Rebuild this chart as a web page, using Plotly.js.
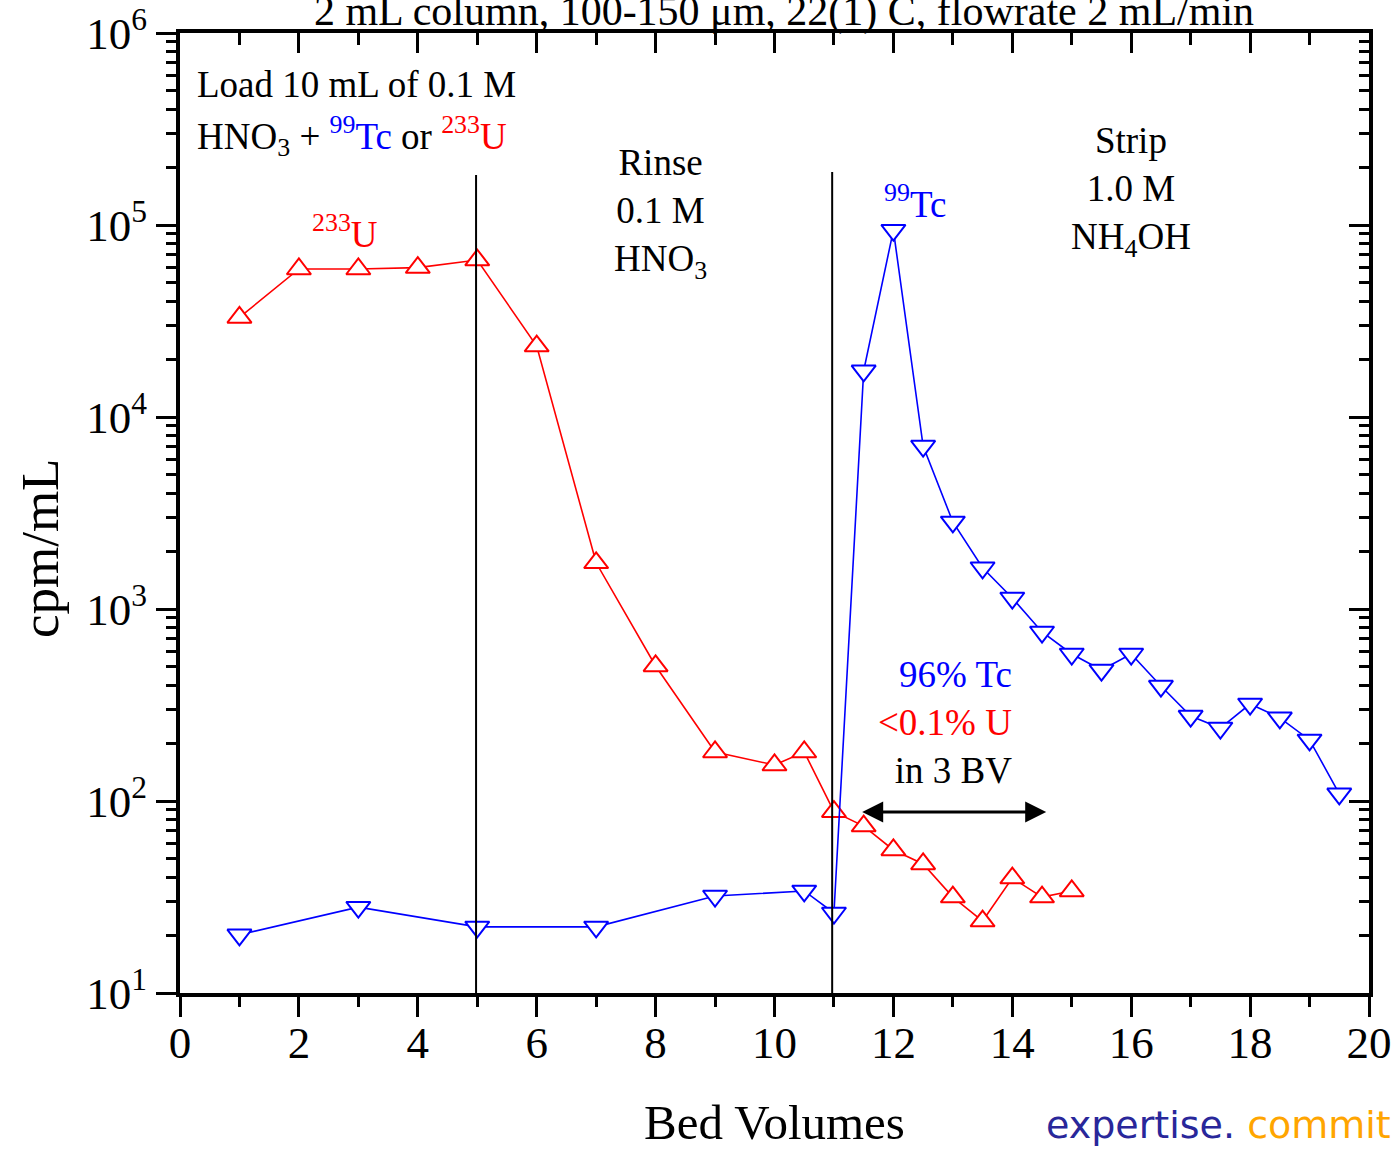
<!DOCTYPE html>
<html>
<head>
<meta charset="utf-8">
<script src="https://cdn.plot.ly/plotly-3.0.1.min.js"></script>
<style>html,body{margin:0;padding:0;background:#fff;}</style>
</head>
<body>
<div id="chart" style="width:1395px;height:1150px;"></div>
<script>
// ---- data ----
const uBV  = [1, 2, 3, 4, 5, 6, 7, 8, 9, 10, 10.5, 11, 11.5, 12, 12.5, 13, 13.5, 14, 14.5, 15];
const uCpm = [33000, 59000, 59000, 60000, 65700, 23400, 1740, 505, 180, 154, 180, 88, 74, 55.6, 47, 31.6, 23.7, 39.7, 31.6, 34];

const tcBV  = [1, 3, 5, 7, 9, 10.5, 11, 11.5, 12, 12.5, 13, 13.5, 14, 14.5, 15, 15.5, 16, 16.5, 17, 17.5, 18, 18.5, 19, 19.5];
const tcCpm = [20.1, 28, 22.1, 22.1, 32, 34, 26.1, 17400, 94000, 7060, 2840, 1640, 1141, 759, 583, 481, 583, 397, 277, 240, 320, 271, 208, 109];

// stage boundaries (vertical lines): bed volume and top end
const stageBV  = [4.98, 10.97];
const stageTop = [182000, 189000];
const yBottom = 10;

const xTickVals = [0, 2, 4, 6, 8, 10, 12, 14, 16, 18, 20];
const yTickVals = [1e1, 1e2, 1e3, 1e4, 1e5, 1e6];
const yTickText = ['10<sup>1</sup>', '10<sup>2</sup>', '10<sup>3</sup>', '10<sup>4</sup>', '10<sup>5</sup>', '10<sup>6</sup>'];

const yMinor = [];
for (let d = 1; d <= 5; d++) for (let m = 2; m <= 9; m++) yMinor.push(m * Math.pow(10, d));

const SERIF = 'Liberation Serif, Times New Roman, serif';
const RED = '#ff0000', BLUE = '#0000ff';

const traces = [
  {
    x: uBV, y: uCpm, type: 'scatter', mode: 'lines+markers', name: '233U',
    line: {color: RED, width: 1.6},
    marker: {symbol: 'triangle-up', size: 21, color: '#ffffff', line: {color: RED, width: 2}},
    hoverinfo: 'x+y'
  },
  {
    x: tcBV, y: tcCpm, type: 'scatter', mode: 'lines+markers', name: '99Tc',
    line: {color: BLUE, width: 1.6},
    marker: {symbol: 'triangle-down', size: 21, color: '#ffffff', line: {color: BLUE, width: 2}},
    hoverinfo: 'x+y'
  }
];
stageBV.forEach((bv, i) => {
  traces.push({
    x: [bv, bv], y: [yBottom, stageTop[i]], type: 'scatter', mode: 'lines',
    xaxis: 'x2', yaxis: 'y2', line: {color: '#000000', width: 2}, hoverinfo: 'skip', showlegend: false
  });
});

const tickFont = {family: SERIF, size: 45, color: '#000'};
const annFont = {family: SERIF, size: 37, color: '#000'};

const layout = {
  width: 1395, height: 1150,
  margin: {l: 180, r: 26, t: 33, b: 157, pad: 0},
  paper_bgcolor: '#ffffff', plot_bgcolor: '#ffffff',
  showlegend: false,
  title: {
    text: '2 mL column, 100-150 μm, 22(1) C, flowrate 2 mL/min',
    font: {family: SERIF, size: 42, color: '#000'},
    xref: 'container', yref: 'container', x: 0.562, xanchor: 'center',
    y: 1 - 25 / 1150, yanchor: 'bottom'
  },
  xaxis: {
    range: [0, 20], tickmode: 'array', tickvals: xTickVals,
    showgrid: false, zeroline: false, showline: true, linecolor: '#000', linewidth: 4,
    ticks: 'outside', ticklen: 20, tickwidth: 3, tickcolor: '#000',
    minor: {dtick: 1, tick0: 0, ticks: 'outside', ticklen: 10, tickwidth: 3, tickcolor: '#000', showgrid: false},
    tickfont: tickFont, ticklabelstandoff: -13,
    title: {text: 'Bed Volumes', font: {family: SERIF, size: 49, color: '#000'}, standoff: 71}
  },
  yaxis: {
    type: 'log', range: [1, 6], tickmode: 'array', tickvals: yTickVals, ticktext: yTickText,
    showgrid: false, zeroline: false, showline: true, linecolor: '#000', linewidth: 4,
    ticks: 'outside', ticklen: 20, tickwidth: 3, tickcolor: '#000',
    minor: {tickmode: 'array', tickvals: yMinor, ticks: 'outside', ticklen: 10, tickwidth: 3, tickcolor: '#000', showgrid: false},
    tickfont: tickFont, ticklabelstandoff: 0
  },
  xaxis2: {
    overlaying: 'x', side: 'top', anchor: 'y2', range: [0, 20], tickmode: 'array', tickvals: xTickVals,
    showgrid: false, zeroline: false, showline: true, linecolor: '#000', linewidth: 4,
    ticks: 'inside', ticklen: 20, tickwidth: 3, tickcolor: '#000', showticklabels: false,
    minor: {dtick: 1, tick0: 0, ticks: 'inside', ticklen: 12, tickwidth: 3, tickcolor: '#000', showgrid: false}
  },
  yaxis2: {
    overlaying: 'y', side: 'right', anchor: 'x2', type: 'log', range: [1, 6], tickmode: 'array', tickvals: yTickVals,
    showgrid: false, zeroline: false, showline: true, linecolor: '#000', linewidth: 4,
    ticks: 'inside', ticklen: 20, tickwidth: 3, tickcolor: '#000', showticklabels: false,
    minor: {tickmode: 'array', tickvals: yMinor, ticks: 'inside', ticklen: 10, tickwidth: 3, tickcolor: '#000', showgrid: false}
  },
  annotations: [
    {xref: 'x', yref: 'y', x: 0.25, y: 5.734, xanchor: 'left', yanchor: 'middle', showarrow: false,
     text: 'Load 10 mL of 0.1 M', font: annFont},
    {xref: 'x', yref: 'y', x: 0.25, y: 5.464, xanchor: 'left', yanchor: 'middle', showarrow: false,
     text: 'HNO<sub>3</sub> + <span style="color:#0000ff"><sup>99</sup>Tc</span> or <span style="color:#ff0000"><sup>233</sup>U</span>', font: annFont},
    {xref: 'x', yref: 'y', x: 2.78, y: 4.964, xanchor: 'center', yanchor: 'middle', showarrow: false,
     text: '<sup>233</sup>U', font: {family: SERIF, size: 37, color: RED}},
    {xref: 'x', yref: 'y', x: 8.09, y: 5.0625, xanchor: 'center', yanchor: 'middle', showarrow: false, align: 'center',
     text: 'Rinse<br>0.1 M<br>HNO<sub>3</sub>', font: annFont},
    {xref: 'x', yref: 'y', x: 16.0, y: 5.177, xanchor: 'center', yanchor: 'middle', showarrow: false, align: 'center',
     text: 'Strip<br>1.0 M<br>NH<sub>4</sub>OH', font: annFont},
    {xref: 'x', yref: 'y', x: 12.36, y: 5.125, xanchor: 'center', yanchor: 'middle', showarrow: false,
     text: '<sup>99</sup>Tc', font: {family: SERIF, size: 37, color: BLUE}},
    {xref: 'x', yref: 'y', x: 14.03, y: 2.411, xanchor: 'right', yanchor: 'middle', showarrow: false, align: 'right',
     text: '<span style="color:#0000ff">96% Tc</span><br><span style="color:#ff0000">&lt;0.1% U</span><br>in 3 BV', font: annFont},
    {xref: 'x', yref: 'y', axref: 'x', ayref: 'y', x: 14.57, y: 1.943, ax: 11.45, ay: 1.943,
     text: '', showarrow: true, arrowside: 'end+start', arrowhead: 2, arrowsize: 1.4, arrowwidth: 3, arrowcolor: '#000',
     standoff: 0, startstandoff: 0},
    {xref: 'paper', yref: 'paper', x: -0.1177, y: 0.4635, xanchor: 'center', yanchor: 'middle', showarrow: false,
     textangle: -90, text: 'cpm/mL', font: {family: SERIF, size: 53, color: '#000'}},
    {xref: 'paper', yref: 'paper', x: 1.0202, y: -0.1375, xanchor: 'right', yanchor: 'middle', showarrow: false,
     text: '<span style="color:#29279a">expertise.</span> <span style="color:#ffa500">commit</span>',
     font: {family: 'DejaVu Sans, sans-serif', size: 38}}
  ]
};

Plotly.newPlot('chart', traces, layout, {staticPlot: true, displayModeBar: false});
</script>
</body>
</html>
